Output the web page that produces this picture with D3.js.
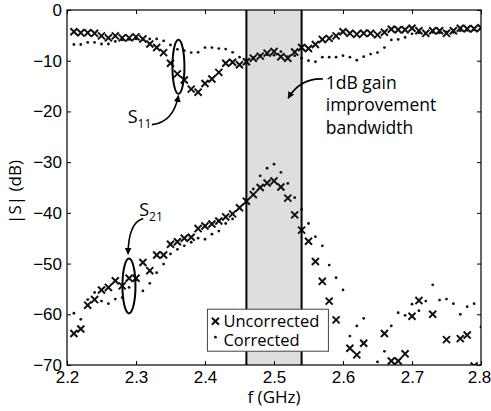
<!DOCTYPE html>
<html>
<head>
<meta charset="utf-8">
<script src="https://cdn.jsdelivr.net/npm/d3@7"></script>
<style>
  body { margin: 0; background: #fff; }
  svg { display: block; font-family: "Open Sans", sans-serif; }
  .axis text { font-size: 17px; fill: #000; }
  .axis path, .axis line { stroke: #000; }
</style>
</head>
<body>
<svg width="491" height="411"></svg>
<script>
// frequency points (GHz)
const freq = [2.21, 2.22, 2.23, 2.24, 2.25, 2.26, 2.27, 2.28, 2.29, 2.30,
              2.31, 2.32, 2.33, 2.34, 2.35, 2.36, 2.37, 2.38, 2.39, 2.40,
              2.41, 2.42, 2.43, 2.44, 2.45, 2.46, 2.47, 2.48, 2.49, 2.50,
              2.51, 2.52, 2.53, 2.54, 2.55, 2.56, 2.57, 2.58, 2.59, 2.60,
              2.61, 2.62, 2.63, 2.64, 2.65, 2.66, 2.67, 2.68, 2.69, 2.70,
              2.71, 2.72, 2.73, 2.74, 2.75, 2.76, 2.77, 2.78, 2.79, 2.80];

const s11Uncorrected = [-4.3, -4.5, -4.5, -4.6, -5.1, -5.5, -5.1, -5.5, -5.5, -5.3,
                        -5.7, -6.7, -7.4, -8.4, -10.5, -12.6, -13.8, -15.6, -16.2, -14.5,
                        -13.6, -12.3, -10.5, -10.3, -10.8, -10.2, -9.5, -9.1, -8.5, -8.2,
                        -9.2, -9.5, -8.3, -7.4, -7.6, -6.8, -5.8, -5.6, -5.1, -4.3,
                        -4.6, -4.8, -4.6, -4.6, -4.9, -4.4, -3.8, -3.9, -3.9, -3.6,
                        -4.1, -4.6, -4.1, -4.1, -4.6, -4.1, -3.6, -3.7, -3.7, -3.5];

const s11Corrected = [-6.8, -6.8, -6.4, -6.4, -6.7, -6.7, -6.2, -5.9, -5.8, -5.7,
                      -5.8, -5.7, -5.7, -6.1, -6.9, -7.75, -8.0, -8.4, -8.35, -7.4,
                      -7.4, -7.6, -7.7, -8.35, -9.3, -9.8, -9.4, -9.0, -8.8, -8.9,
                      -8.2, -9.2, -9.0, -9.5, -10.0, -10.2, -9.3, -9.3, -9.3, -9.0,
                      -9.3, -9.9, -9.2, -8.7, -8.4, -7.4, -5.9, -5.8, -5.4, -4.7,
                      -4.5, -4.7, -4.4, -4.5, -4.3, -4.4, -4.1, -4.0, -3.9, -3.7];

const s21Uncorrected = [-63.8, -62.9, -58.2, -57.1, -55.2, -54.7, -53.4, -54.4, -52.9, -52.9,
                        -49.8, -51.4, -48.3, -48.3, -46.2, -45.7, -45.0, -44.8, -43.1, -42.6,
                        -42.2, -41.6, -40.8, -40.2, -39.0, -37.7, -36.4, -35.0, -34.1, -33.7,
                        -34.9, -37.1, -40.4, -43.4, -45.6, -49.6, -53.5, -57.4, -61.1, null,
                        -66.7, -68.0, -65.7, null, null, -63.8, -69.2, -69.2, -67.8, -60.4,
                        -57.3, null, -60.0, null, -65.0, null, -64.8, -64.1, -70.2, null];

const s21Corrected = [-59.8, -61.0, -57.1, -55.7, -57.4, -57.9, -57.0, -56.7, -54.7, -53.2,
                      -55.4, -53.9, -51.8, -50.1, -48.1, -47.2, -46.5, -45.8, -45.0, -45.2,
                      -44.2, -43.6, -42.1, -41.2, -38.9, -37.5, -35.3, -32.7, -31.2, -30.4,
                      -32.0, -34.2, -37.0, -39.3, -42.1, -44.7, -46.5, -50.3, -52.8, -55.2,
                      -64.3, -62.3, -60.8, null, -69.4, -67.3, -62.3, -59.7, -60.2, -58.0,
                      -59.3, -57.4, -54.2, -57.2, -57.0, -57.9, -60.0, -58.5, -57.9, -62.5];

const xTicks = [2.2, 2.3, 2.4, 2.5, 2.6, 2.7, 2.8];
const yTicks = [0, -10, -20, -30, -40, -50, -60, -70];
const band = [2.46, 2.54];

const svg = d3.select("svg"),
      margin = {top: 10, right: 10, bottom: 46, left: 67},
      width = +svg.attr("width") - margin.left - margin.right,
      height = +svg.attr("height") - margin.top - margin.bottom,
      g = svg.append("g").attr("transform", `translate(${margin.left},${margin.top})`);

const x = d3.scaleLinear().domain([2.2, 2.8]).range([0, width]),
      y = d3.scaleLinear().domain([-70, 0]).range([height, 0]);

const fmtY = d => d === 0 ? "0" : "\u2212" + Math.abs(d);

svg.append("defs").append("clipPath").attr("id", "plot")
   .append("rect").attr("width", width).attr("height", height);
svg.select("defs").append("marker")
   .attr("id", "arrow").attr("viewBox", "0 0 10 10")
   .attr("refX", 9).attr("refY", 5)
   .attr("markerWidth", 7).attr("markerHeight", 7)
   .attr("markerUnits", "userSpaceOnUse")
   .attr("orient", "auto")
   .append("path").attr("d", "M0,0L10,5L0,10Z").attr("fill", "#000");

// shaded bandwidth
g.append("rect")
 .attr("x", x(band[0])).attr("y", 0)
 .attr("width", x(band[1]) - x(band[0])).attr("height", height)
 .attr("fill", "#dedede");

// axes (inward ticks on all sides)
const xAxis = g.append("g").attr("class", "axis")
 .attr("transform", `translate(0,${height})`)
 .call(d3.axisBottom(x).tickValues(xTicks).tickFormat(d3.format(".1f")).tickSizeInner(-4).tickSizeOuter(0).tickPadding(6));
xAxis.selectAll(".tick text").filter(d => d === 2.8).attr("dx", -2);
g.append("g").attr("class", "axis")
 .call(d3.axisTop(x).tickValues(xTicks).tickFormat("").tickSizeInner(-4).tickSizeOuter(0));
g.append("g").attr("class", "axis")
 .call(d3.axisLeft(y).tickValues(yTicks).tickFormat(fmtY).tickSizeInner(-4).tickSizeOuter(0).tickPadding(5));
g.append("g").attr("class", "axis")
 .attr("transform", `translate(${width},0)`)
 .call(d3.axisRight(y).tickValues(yTicks).tickFormat("").tickSizeInner(-4).tickSizeOuter(0));
g.selectAll(".axis .domain").remove();

const plot = g.append("g").attr("clip-path", "url(#plot)");

function toPoints(vals) {
  return freq.map((f, i) => ({f: f, v: vals[i]})).filter(d => d.v !== null);
}

const cross = d3.symbol().type(d3.symbolX).size(34);

function drawCrosses(vals) {
  plot.append("g").selectAll("path")
      .data(toPoints(vals))
      .join("path")
      .attr("transform", d => `translate(${x(d.f)},${y(d.v)})`)
      .attr("d", cross)
      .attr("fill", "none")
      .attr("stroke", "#111")
      .attr("stroke-width", 2);
}

function drawDots(vals) {
  plot.append("g").selectAll("circle")
      .data(toPoints(vals))
      .join("circle")
      .attr("cx", d => x(d.f))
      .attr("cy", d => y(d.v))
      .attr("r", 1.4)
      .attr("fill", "#111");
}

drawDots(s11Corrected);
drawDots(s21Corrected);
drawCrosses(s11Uncorrected);
drawCrosses(s21Uncorrected);

// band edges
band.forEach(b => {
  g.append("line")
   .attr("x1", x(b)).attr("x2", x(b))
   .attr("y1", 0).attr("y2", height)
   .attr("stroke", "#000").attr("stroke-width", 2);
});

// frame
g.append("rect").attr("width", width).attr("height", height)
 .attr("fill", "none").attr("stroke", "#000").attr("stroke-width", 1.2);

// S11 annotation
g.append("ellipse")
 .attr("cx", x(2.3615)).attr("cy", y(-11.2))
 .attr("rx", 6).attr("ry", 27)
 .attr("fill", "none").attr("stroke", "#000").attr("stroke-width", 2);
g.append("path")
 .attr("d", `M${x(2.323)},${y(-22.6)} Q${x(2.354)},${y(-22.2)} ${x(2.3615)},${y(-16.9)}`)
 .attr("fill", "none").attr("stroke", "#000").attr("stroke-width", 1.6)
 .attr("marker-end", "url(#arrow)");
const s11Label = g.append("text").attr("x", x(2.288)).attr("y", y(-22.3))
 .attr("font-size", 18);
s11Label.append("tspan").text("S");
s11Label.append("tspan").attr("font-size", 12).attr("dy", 5).text("11");

// S21 annotation
g.append("ellipse")
 .attr("cx", x(2.2898)).attr("cy", y(-54.4))
 .attr("rx", 6.5).attr("ry", 27.5)
 .attr("fill", "none").attr("stroke", "#000").attr("stroke-width", 2);
g.append("path")
 .attr("d", `M${x(2.3105)},${y(-41.1)} Q${x(2.289)},${y(-41.9)} ${x(2.2885)},${y(-48.1)}`)
 .attr("fill", "none").attr("stroke", "#000").attr("stroke-width", 1.6)
 .attr("marker-end", "url(#arrow)");
const s21Label = g.append("text").attr("x", x(2.3047)).attr("y", y(-40.6))
 .attr("font-size", 18);
s21Label.append("tspan").text("S");
s21Label.append("tspan").attr("font-size", 12).attr("dy", 5).text("21");

// bandwidth annotation
g.append("path")
 .attr("d", `M${x(2.571)},${y(-13.6)} Q${x(2.538)},${y(-13.4)} ${x(2.5205)},${y(-17.4)}`)
 .attr("fill", "none").attr("stroke", "#000").attr("stroke-width", 1.6)
 .attr("marker-end", "url(#arrow)");
const bwLines = ["1dB gain", "improvement", "bandwidth"];
g.append("g").selectAll("text")
 .data(bwLines)
 .join("text")
 .attr("x", x(2.575))
 .attr("y", (d, i) => y(-15.5) + i * 22.5)
 .attr("font-size", 17.5)
 .text(d => d);

// legend
const legend = g.append("g").attr("transform", `translate(${x(2.4035)},${y(-59.0)})`);
legend.append("rect").attr("width", 121).attr("height", 42)
      .attr("fill", "#fff").attr("stroke", "#444").attr("stroke-width", 1);
legend.append("path").attr("d", cross)
      .attr("transform", "translate(8,12)")
      .attr("fill", "none").attr("stroke", "#111").attr("stroke-width", 2);
legend.append("circle").attr("cx", 8).attr("cy", 28).attr("r", 1.4).attr("fill", "#111");
legend.append("text").attr("x", 16).attr("y", 18).attr("font-size", 16.5).text("Uncorrected");
legend.append("text").attr("x", 16).attr("y", 37).attr("font-size", 16.5).text("Corrected");

// axis titles
svg.append("text")
   .attr("x", margin.left + x(2.5)).attr("y", 403)
   .attr("text-anchor", "middle").attr("font-size", 17)
   .text("f (GHz)");
svg.append("text")
   .attr("transform", "translate(21,192) rotate(-90)")
   .attr("text-anchor", "middle").attr("font-size", 17)
   .text("|S| (dB)");
</script>
</body>
</html>
